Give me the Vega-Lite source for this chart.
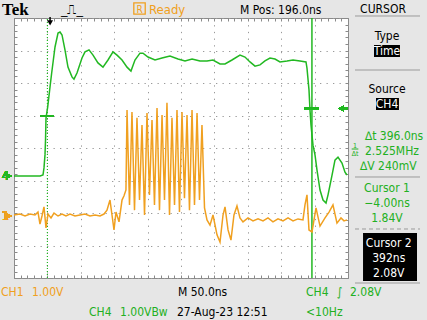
{
"$schema": "https://vega.github.io/schema/vega-lite/v6.json",
"width": 334, "height": 260,
"autosize": {"type": "none"},
"padding": {"left": 14, "top": 18, "right": 79, "bottom": 42},
"background": "#e6e6e6",
"config": {"view": {"fill": "#ffffff", "stroke": "#8a8a8a", "strokeWidth": 1},
  "text": {"font": "Liberation Sans Narrow, DejaVu Sans Condensed, sans-serif", "fontSize": 12}},
"datasets": {
 "blank": [{}],
 "ch4": [
  {"t":-54,"v":0},{"t":-30,"v":0},{"t":-15,"v":0},{"t":-10.6,"v":0.03},{"t":-9.1,"v":0.25},{"t":-7.6,"v":0.65},{"t":-6.8,"v":1.11},{"t":-6.1,"v":1.78},{"t":-3.6,"v":2.12},{"t":-0.1,"v":2.74},{"t":2.4,"v":3.17},{"t":7.4,"v":3.97},{"t":11.9,"v":4.4},{"t":14.9,"v":4.43},{"t":17.9,"v":4.34},{"t":22.3,"v":3.88},{"t":26.8,"v":3.35},{"t":32.8,"v":3.05},{"t":35.8,"v":2.98},{"t":40.3,"v":3.17},{"t":47.8,"v":3.63},{"t":52.3,"v":3.82},{"t":58.3,"v":3.88},{"t":64.3,"v":3.72},{"t":71.7,"v":3.48},{"t":79.2,"v":3.35},{"t":86.7,"v":3.57},{"t":94.2,"v":3.82},{"t":100.2,"v":3.72},{"t":107.7,"v":3.57},{"t":115.2,"v":3.35},{"t":121.1,"v":3.23},{"t":127.1,"v":3.57},{"t":134.6,"v":3.78},{"t":139.1,"v":3.78},{"t":146.6,"v":3.66},{"t":157.1,"v":3.57},{"t":167.6,"v":3.63},{"t":179.5,"v":3.69},{"t":191.5,"v":3.6},{"t":202,"v":3.54},{"t":212.5,"v":3.6},{"t":224.4,"v":3.54},{"t":234.9,"v":3.54},{"t":243.9,"v":3.57},{"t":254.4,"v":3.45},{"t":261.9,"v":3.45},{"t":272.3,"v":3.57},{"t":284.3,"v":3.72},{"t":291.8,"v":3.66},{"t":299.3,"v":3.51},{"t":306.8,"v":3.38},{"t":314.3,"v":3.42},{"t":321.7,"v":3.54},{"t":329.2,"v":3.63},{"t":336.7,"v":3.6},{"t":344.2,"v":3.51},{"t":354.7,"v":3.54},{"t":363.7,"v":3.57},{"t":374.1,"v":3.54},{"t":383.1,"v":3.51},{"t":384.6,"v":3.32},{"t":387.6,"v":2.65},{"t":389.1,"v":2.03},{"t":390.6,"v":1.57},{"t":393.6,"v":0.95},{"t":396.6,"v":0.65},{"t":399.6,"v":0.18},{"t":404.1,"v":-0.43},{"t":408.6,"v":-0.74},{"t":413.1,"v":-0.83},{"t":416.1,"v":-0.58},{"t":422.1,"v":0.03},{"t":426.5,"v":0.49},{"t":431,"v":0.58},{"t":437,"v":0.4},{"t":441.5,"v":0.12},{"t":444.5,"v":0.03}
 ],
 "ch1": [
  {"t":-54,"v":0.03},{"t":-45,"v":0.06},{"t":-37.5,"v":0},{"t":-30,"v":0.06},{"t":-22.6,"v":0.03},{"t":-18.1,"v":0.12},{"t":-15.1,"v":-0.25},{"t":-12.1,"v":0},{"t":-9.1,"v":0.28},{"t":-6.1,"v":-0.37},{"t":-3.1,"v":0.06},{"t":1.4,"v":-0.06},{"t":5.9,"v":0.09},{"t":11.9,"v":0},{"t":17.9,"v":0.06},{"t":23.8,"v":0},{"t":29.8,"v":0.06},{"t":37.3,"v":0},{"t":44.8,"v":0.03},{"t":52.3,"v":0.06},{"t":59.8,"v":0},{"t":67.3,"v":0.03},{"t":74.7,"v":0},{"t":80.7,"v":0.06},{"t":85.2,"v":0.18},{"t":89.7,"v":0.49},{"t":92.7,"v":0.03},{"t":95.7,"v":-0.43},{"t":98.7,"v":0.12},{"t":103.2,"v":-0.18},{"t":107.7,"v":0.49},{"t":110.7,"v":0.62},{"t":113.6,"v":0.8},
  {"t":115.2,"v":3.26},{"t":118.9,"v":0.34},{"t":122.6,"v":3.2},{"t":126.4,"v":0.18},{"t":130.1,"v":3.02},{"t":133.9,"v":0.49},{"t":137.6,"v":2.8},{"t":141.4,"v":0.03},{"t":145.1,"v":3.17},{"t":148.8,"v":0.65},{"t":152.6,"v":2.95},{"t":156.3,"v":0.34},{"t":160.1,"v":3.32},{"t":163.8,"v":0.18},{"t":167.6,"v":3.11},{"t":171.3,"v":0.49},{"t":175,"v":3.48},{"t":178.8,"v":0.03},{"t":182.5,"v":3.02},{"t":186.3,"v":0.34},{"t":190,"v":3.26},{"t":193.7,"v":0.12},{"t":197.5,"v":3.2},{"t":201.2,"v":0.55},{"t":205,"v":3.11},{"t":208.7,"v":0.18},{"t":212.5,"v":3.26},{"t":216.2,"v":0.34},{"t":220,"v":3.17},{"t":223.7,"v":0.49},{"t":227.4,"v":2.8},{"t":231.2,"v":0.25},
  {"t":234.9,"v":-0.12},{"t":239.4,"v":-0.28},{"t":243.9,"v":0.03},{"t":249.9,"v":-0.58},{"t":254.4,"v":-0.8},{"t":258.9,"v":0.03},{"t":261.9,"v":0.28},{"t":266.4,"v":-0.43},{"t":270.8,"v":-0.74},{"t":275.3,"v":0.03},{"t":279.8,"v":0.31},{"t":284.3,"v":-0.06},{"t":288.8,"v":-0.18},{"t":296.3,"v":-0.06},{"t":303.8,"v":-0.15},{"t":311.3,"v":-0.09},{"t":318.8,"v":-0.15},{"t":326.2,"v":-0.06},{"t":333.7,"v":-0.18},{"t":341.2,"v":-0.09},{"t":348.7,"v":-0.15},{"t":356.2,"v":-0.06},{"t":363.7,"v":-0.15},{"t":371.1,"v":-0.09},{"t":378.6,"v":-0.12},{"t":381.6,"v":0.34},{"t":384.6,"v":0.65},{"t":387.6,"v":-0.43},{"t":392.1,"v":-0.49},{"t":398.1,"v":0.25},{"t":404.1,"v":-0.31},{"t":411.6,"v":-0.06},{"t":417.6,"v":0.12},{"t":423.5,"v":0.34},{"t":429.5,"v":-0.22},{"t":435.5,"v":-0.06},{"t":440,"v":-0.15},{"t":444.5,"v":-0.12}
 ]
},
"resolve": {"scale": {"y": "independent"}, "axis": {"x": "independent", "y": "independent"}},
"layer": [
 {
  "data": {"name": "blank"},
  "resolve": {"axis": {"x": "independent", "y": "independent"}},
  "layer": [
   {"mark": {"type": "point", "opacity": 0},
    "encoding": {
     "x": {"datum": 0, "type": "quantitative", "scale": {"domain": [-54, 446], "nice": false, "zero": false},
       "axis": {"orient": "bottom", "values": [-54,-4,46,96,146,196,246,296,346,396,446], "grid": true, "gridColor": "#9a9a9a", "gridDash": [1.3, 5.38], "gridWidth": 1, "ticks": false, "labels": false, "domain": false, "title": null}},
     "y": {"datum": 0, "type": "quantitative", "scale": {"domain": [-4, 4], "nice": false, "zero": false},
       "axis": {"orient": "left", "values": [-4,-3,-2,-1,0,1,2,3,4], "grid": true, "gridColor": "#9a9a9a", "gridDash": [1.3, 5.2], "gridWidth": 1, "ticks": false, "labels": false, "domain": false, "title": null}}}},
   {"mark": {"type": "point", "opacity": 0},
    "encoding": {
     "x": {"datum": 0, "type": "quantitative",
       "axis": {"orient": "bottom", "values": [-54,-44,-34,-24,-14,-4,6,16,26,36,46,56,66,76,86,96,106,116,126,136,146,156,166,176,186,196,206,216,226,236,246,256,266,276,286,296,306,316,326,336,346,356,366,376,386,396,406,416,426,436,446], "grid": false, "ticks": true, "tickSize": -3, "tickColor": "#8a8a8a", "labels": false, "domain": false, "title": null}},
     "y": {"datum": 0, "type": "quantitative",
       "axis": {"orient": "left", "values": [-4,-3.8,-3.6,-3.4,-3.2,-3,-2.8,-2.6,-2.4,-2.2,-2,-1.8,-1.6,-1.4,-1.2,-1,-0.8,-0.6,-0.4,-0.2,0,0.2,0.4,0.6,0.8,1,1.2,1.4,1.6,1.8,2,2.2,2.4,2.6,2.8,3,3.2,3.4,3.6,3.8,4], "grid": false, "ticks": true, "tickSize": -3, "tickColor": "#8a8a8a", "labels": false, "domain": false, "title": null}}}},
   {"mark": {"type": "point", "opacity": 0},
    "encoding": {
     "x": {"datum": 0, "type": "quantitative",
       "axis": {"orient": "top", "values": [-54,-44,-34,-24,-14,-4,6,16,26,36,46,56,66,76,86,96,106,116,126,136,146,156,166,176,186,196,206,216,226,236,246,256,266,276,286,296,306,316,326,336,346,356,366,376,386,396,406,416,426,436,446], "grid": false, "ticks": true, "tickSize": -3, "tickColor": "#8a8a8a", "labels": false, "domain": false, "title": null}},
     "y": {"datum": 0, "type": "quantitative",
       "axis": {"orient": "right", "values": [-4,-3.8,-3.6,-3.4,-3.2,-3,-2.8,-2.6,-2.4,-2.2,-2,-1.8,-1.6,-1.4,-1.2,-1,-0.8,-0.6,-0.4,-0.2,0,0.2,0.4,0.6,0.8,1,1.2,1.4,1.6,1.8,2,2.2,2.4,2.6,2.8,3,3.2,3.4,3.6,3.8,4], "grid": false, "ticks": true, "tickSize": -3, "tickColor": "#8a8a8a", "labels": false, "domain": false, "title": null}}}},
   {"mark": {"type": "rule", "color": "#22b822", "strokeWidth": 1.2, "strokeDash": [1, 2]},
    "encoding": {"x": {"datum": -4, "type": "quantitative", "axis": null}, "y": {"datum": -4, "type": "quantitative", "axis": null}, "y2": {"datum": 4}}},
   {"mark": {"type": "rule", "color": "#22b822", "strokeWidth": 1.5},
    "encoding": {"x": {"datum": 392, "type": "quantitative", "axis": null}, "y": {"datum": -4, "type": "quantitative", "axis": null}, "y2": {"datum": 4}}},
   {"mark": {"type": "rule", "color": "#000000", "strokeWidth": 1.5},
    "encoding": {"x": {"datum": 0, "type": "quantitative", "axis": null}, "y": {"datum": 4.03, "type": "quantitative", "axis": null}, "y2": {"datum": 3.9}}},
   {"mark": {"type": "point", "shape": "triangle-down", "filled": true, "color": "#000000", "size": 35, "opacity": 1},
    "encoding": {"x": {"datum": 0, "type": "quantitative", "axis": null}, "y": {"datum": 3.85, "type": "quantitative", "axis": null}}},

   {"mark": {"type": "text", "align": "left", "baseline": "alphabetic", "font": "Liberation Serif", "fontWeight": "bold", "fontSize": 17, "color": "#000000"},
    "encoding": {"x": {"datum": -72, "type": "quantitative", "axis": null}, "y": {"datum": 4.092, "type": "quantitative", "axis": null}, "text": {"value": "Tek"}}},
   {"mark": {"type": "text", "align": "center", "baseline": "alphabetic", "font": "DejaVu Sans", "fontSize": 13, "color": "#000000"},
    "encoding": {"x": {"datum": 32.8, "type": "quantitative", "axis": null}, "y": {"datum": 4.12, "type": "quantitative", "axis": null}, "text": {"value": "_⎍_"}}},
   {"mark": {"type": "point", "shape": "square", "filled": false, "color": "#f0a020", "strokeWidth": 1.3, "size": 130, "opacity": 1},
    "encoding": {"x": {"datum": 133.9, "type": "quantitative", "axis": null}, "y": {"datum": 4.292, "type": "quantitative", "axis": null}}},
   {"mark": {"type": "text", "align": "center", "baseline": "alphabetic", "fontSize": 10, "color": "#f0a020"},
    "encoding": {"x": {"datum": 133.9, "type": "quantitative", "axis": null}, "y": {"datum": 4.14, "type": "quantitative", "axis": null}, "text": {"value": "R"}}},
   {"mark": {"type": "text", "align": "left", "baseline": "alphabetic", "color": "#f0a020", "fontSize": 13},
    "encoding": {"x": {"datum": 148.1, "type": "quantitative", "axis": null}, "y": {"datum": 4.138, "type": "quantitative", "axis": null}, "text": {"value": "Ready"}}},
   {"mark": {"type": "text", "align": "left", "baseline": "alphabetic", "color": "#000000"},
    "encoding": {"x": {"datum": 284.3, "type": "quantitative", "axis": null}, "y": {"datum": 4.138, "type": "quantitative", "axis": null}, "text": {"value": "M Pos: 196.0ns"}}},
   {"mark": {"type": "text", "align": "center", "baseline": "alphabetic", "color": "#000000"},
    "encoding": {"x": {"datum": 498.4, "type": "quantitative", "axis": null}, "y": {"datum": 4.154, "type": "quantitative", "axis": null}, "text": {"value": "CURSOR"}}},

   {"mark": {"type": "rule", "color": "#9a9a9a", "strokeWidth": 1},
    "encoding": {"x": {"datum": 456.5, "type": "quantitative", "axis": null}, "x2": {"datum": 553.8}, "y": {"datum": 4.062, "type": "quantitative", "axis": null}}},
   {"mark": {"type": "rule", "color": "#9a9a9a", "strokeWidth": 1},
    "encoding": {"x": {"datum": 456.5, "type": "quantitative", "axis": null}, "x2": {"datum": 553.8}, "y": {"datum": 2.4, "type": "quantitative", "axis": null}}},
   {"mark": {"type": "rule", "color": "#9a9a9a", "strokeWidth": 1},
    "encoding": {"x": {"datum": 456.5, "type": "quantitative", "axis": null}, "x2": {"datum": 553.8}, "y": {"datum": -0.892, "type": "quantitative", "axis": null}}},
   {"mark": {"type": "rule", "color": "#9a9a9a", "strokeWidth": 1, "strokeDash": [4, 3]},
    "encoding": {"x": {"datum": 456.5, "type": "quantitative", "axis": null}, "x2": {"datum": 553.8}, "y": {"datum": -2.492, "type": "quantitative", "axis": null}}},
   {"mark": {"type": "rule", "color": "#9a9a9a", "strokeWidth": 1},
    "encoding": {"x": {"datum": 456.5, "type": "quantitative", "axis": null}, "x2": {"datum": 553.8}, "y": {"datum": -4.154, "type": "quantitative", "axis": null}}},

   {"mark": {"type": "text", "align": "center", "baseline": "alphabetic", "color": "#000000"},
    "encoding": {"x": {"datum": 504.4, "type": "quantitative", "axis": null}, "y": {"datum": 3.323, "type": "quantitative", "axis": null}, "text": {"value": "Type"}}},
   {"mark": {"type": "rect", "color": "#000000"},
    "encoding": {"x": {"datum": 484.9, "type": "quantitative", "axis": null}, "x2": {"datum": 523.8}, "y": {"datum": 3.169, "type": "quantitative", "axis": null}, "y2": {"datum": 2.8}}},
   {"mark": {"type": "text", "align": "center", "baseline": "alphabetic", "color": "#ffffff"},
    "encoding": {"x": {"datum": 504.4, "type": "quantitative", "axis": null}, "y": {"datum": 2.862, "type": "quantitative", "axis": null}, "text": {"value": "Time"}}},
   {"mark": {"type": "text", "align": "center", "baseline": "alphabetic", "color": "#000000"},
    "encoding": {"x": {"datum": 504.4, "type": "quantitative", "axis": null}, "y": {"datum": 1.692, "type": "quantitative", "axis": null}, "text": {"value": "Source"}}},
   {"mark": {"type": "rect", "color": "#000000"},
    "encoding": {"x": {"datum": 487.9, "type": "quantitative", "axis": null}, "x2": {"datum": 522.3}, "y": {"datum": 1.538, "type": "quantitative", "axis": null}, "y2": {"datum": 1.169}}},
   {"mark": {"type": "text", "align": "center", "baseline": "alphabetic", "color": "#ffffff"},
    "encoding": {"x": {"datum": 504.4, "type": "quantitative", "axis": null}, "y": {"datum": 1.231, "type": "quantitative", "axis": null}, "text": {"value": "CH4"}}},
   {"mark": {"type": "text", "align": "left", "baseline": "alphabetic", "color": "#22b022"},
    "encoding": {"x": {"datum": 471.4, "type": "quantitative", "axis": null}, "y": {"datum": 0.24, "type": "quantitative", "axis": null}, "text": {"value": "∆t 396.0ns"}}},
   {"mark": {"type": "text", "align": "center", "baseline": "alphabetic", "fontSize": 7, "color": "#22b022"},
    "encoding": {"x": {"datum": 456.5, "type": "quantitative", "axis": null}, "y": {"datum": 0.01, "type": "quantitative", "axis": null}, "text": {"value": "1"}}},
   {"mark": {"type": "rule", "color": "#22b022", "strokeWidth": 1},
    "encoding": {"x": {"datum": 451.5, "type": "quantitative", "axis": null}, "x2": {"datum": 461.5}, "y": {"datum": -0.031, "type": "quantitative", "axis": null}}},
   {"mark": {"type": "text", "align": "center", "baseline": "alphabetic", "fontSize": 7, "color": "#22b022"},
    "encoding": {"x": {"datum": 456.5, "type": "quantitative", "axis": null}, "y": {"datum": -0.235, "type": "quantitative", "axis": null}, "text": {"value": "∆t"}}},
   {"mark": {"type": "text", "align": "left", "baseline": "alphabetic", "color": "#22b022"},
    "encoding": {"x": {"datum": 471.4, "type": "quantitative", "axis": null}, "y": {"datum": -0.2, "type": "quantitative", "axis": null}, "text": {"value": "2.525MHz"}}},
   {"mark": {"type": "text", "align": "left", "baseline": "alphabetic", "color": "#22b022"},
    "encoding": {"x": {"datum": 464, "type": "quantitative", "axis": null}, "y": {"datum": -0.677, "type": "quantitative", "axis": null}, "text": {"value": "∆V 240mV"}}},
   {"mark": {"type": "text", "align": "center", "baseline": "alphabetic", "color": "#22b022", "lineHeight": 15},
    "encoding": {"x": {"datum": 504.4, "type": "quantitative", "axis": null}, "y": {"datum": -1.354, "type": "quantitative", "axis": null}, "text": {"value": ["Cursor 1", "−4.00ns", "1.84V"]}}},
   {"mark": {"type": "rect", "color": "#000000"},
    "encoding": {"x": {"datum": 468.5, "type": "quantitative", "axis": null}, "x2": {"datum": 549.3}, "y": {"datum": -2.615, "type": "quantitative", "axis": null}, "y2": {"datum": -4.092}}},
   {"mark": {"type": "text", "align": "center", "baseline": "alphabetic", "color": "#ffffff", "lineHeight": 15.3},
    "encoding": {"x": {"datum": 507, "type": "quantitative", "axis": null}, "y": {"datum": -3.031, "type": "quantitative", "axis": null}, "text": {"value": ["Cursor 2", "392ns", "2.08V"]}}},

   {"mark": {"type": "text", "align": "left", "baseline": "alphabetic", "color": "#f0a020"},
    "encoding": {"x": {"datum": -73.5, "type": "quantitative", "axis": null}, "y": {"datum": -4.554, "type": "quantitative", "axis": null}, "text": {"value": "CH1"}}},
   {"mark": {"type": "text", "align": "left", "baseline": "alphabetic", "color": "#f0a020"},
    "encoding": {"x": {"datum": -27.1, "type": "quantitative", "axis": null}, "y": {"datum": -4.554, "type": "quantitative", "axis": null}, "text": {"value": "1.00V"}}},
   {"mark": {"type": "text", "align": "left", "baseline": "alphabetic", "color": "#000000"},
    "encoding": {"x": {"datum": 191.5, "type": "quantitative", "axis": null}, "y": {"datum": -4.554, "type": "quantitative", "axis": null}, "text": {"value": "M 50.0ns"}}},
   {"mark": {"type": "text", "align": "left", "baseline": "alphabetic", "color": "#22b022"},
    "encoding": {"x": {"datum": 383.1, "type": "quantitative", "axis": null}, "y": {"datum": -4.554, "type": "quantitative", "axis": null}, "text": {"value": "CH4"}}},
   {"mark": {"type": "text", "align": "left", "baseline": "alphabetic", "color": "#22b022"},
    "encoding": {"x": {"datum": 429.5, "type": "quantitative", "axis": null}, "y": {"datum": -4.554, "type": "quantitative", "axis": null}, "text": {"value": "∫"}}},
   {"mark": {"type": "text", "align": "left", "baseline": "alphabetic", "color": "#22b022"},
    "encoding": {"x": {"datum": 449, "type": "quantitative", "axis": null}, "y": {"datum": -4.554, "type": "quantitative", "axis": null}, "text": {"value": "2.08V"}}},
   {"mark": {"type": "text", "align": "left", "baseline": "alphabetic", "color": "#22b022"},
    "encoding": {"x": {"datum": 58.3, "type": "quantitative", "axis": null}, "y": {"datum": -5.169, "type": "quantitative", "axis": null}, "text": {"value": "CH4"}}},
   {"mark": {"type": "text", "align": "left", "baseline": "alphabetic", "color": "#22b022"},
    "encoding": {"x": {"datum": 104.7, "type": "quantitative", "axis": null}, "y": {"datum": -5.169, "type": "quantitative", "axis": null}, "text": {"value": "1.00VBᴡ"}}},
   {"mark": {"type": "text", "align": "left", "baseline": "alphabetic", "color": "#000000"},
    "encoding": {"x": {"datum": 190, "type": "quantitative", "axis": null}, "y": {"datum": -5.169, "type": "quantitative", "axis": null}, "text": {"value": "27-Aug-23 12:51"}}},
   {"mark": {"type": "text", "align": "left", "baseline": "alphabetic", "color": "#22b022"},
    "encoding": {"x": {"datum": 383.1, "type": "quantitative", "axis": null}, "y": {"datum": -5.169, "type": "quantitative", "axis": null}, "text": {"value": "<10Hz"}}}
  ]
 },
 {
  "data": {"name": "ch1"},
  "layer": [
   {"mark": {"type": "line", "color": "#f0a020", "strokeWidth": 1.5},
    "encoding": {
     "x": {"field": "t", "type": "quantitative", "scale": {"domain": [-54, 446], "nice": false, "zero": false}, "axis": null},
     "y": {"field": "v", "type": "quantitative", "scale": {"domain": [-1.908, 6.092], "nice": false, "zero": false}, "axis": null}}},
   {"mark": {"type": "text", "align": "left", "baseline": "alphabetic", "color": "#f0a020", "fontSize": 12},
    "encoding": {"x": {"datum": -72, "type": "quantitative", "axis": null}, "y": {"datum": -0.123, "type": "quantitative", "axis": null}, "text": {"value": "1"}}},
   {"mark": {"type": "point", "shape": "triangle-right", "filled": true, "color": "#f0a020", "size": 25, "opacity": 1},
    "encoding": {"x": {"datum": -61, "type": "quantitative", "axis": null}, "y": {"datum": 0, "type": "quantitative", "axis": null}}}
  ]
 },
 {
  "data": {"name": "ch4"},
  "layer": [
   {"mark": {"type": "line", "color": "#22b822", "strokeWidth": 1.5},
    "encoding": {
     "x": {"field": "t", "type": "quantitative", "scale": {"domain": [-54, 446], "nice": false, "zero": false}, "axis": null},
     "y": {"field": "v", "type": "quantitative", "scale": {"domain": [-3.138, 4.862], "nice": false, "zero": false}, "axis": null}}},
   {"mark": {"type": "rule", "color": "#22b822", "strokeWidth": 1.3},
    "encoding": {"x": {"datum": -15.1, "type": "quantitative", "axis": null}, "x2": {"datum": 5.9}, "y": {"datum": 1.84, "type": "quantitative", "axis": null}}},
   {"mark": {"type": "rule", "color": "#22b822", "strokeWidth": 1.3},
    "encoding": {"x": {"datum": 380.1, "type": "quantitative", "axis": null}, "x2": {"datum": 402.6}, "y": {"datum": 2.08, "type": "quantitative", "axis": null}}},
   {"mark": {"type": "point", "shape": "triangle-left", "filled": true, "color": "#22b822", "size": 30, "opacity": 1},
    "encoding": {"x": {"datum": 435.5, "type": "quantitative", "axis": null}, "y": {"datum": 2.08, "type": "quantitative", "axis": null}}},
   {"mark": {"type": "rule", "color": "#22b822", "strokeWidth": 1.3},
    "encoding": {"x": {"datum": 437, "type": "quantitative", "axis": null}, "x2": {"datum": 446}, "y": {"datum": 2.08, "type": "quantitative", "axis": null}}},
   {"mark": {"type": "text", "align": "left", "baseline": "alphabetic", "color": "#22b822", "fontSize": 12},
    "encoding": {"x": {"datum": -72, "type": "quantitative", "axis": null}, "y": {"datum": -0.123, "type": "quantitative", "axis": null}, "text": {"value": "4"}}},
   {"mark": {"type": "point", "shape": "triangle-right", "filled": true, "color": "#22b822", "size": 25, "opacity": 1},
    "encoding": {"x": {"datum": -61, "type": "quantitative", "axis": null}, "y": {"datum": 0, "type": "quantitative", "axis": null}}}
  ]
 }
]
}
